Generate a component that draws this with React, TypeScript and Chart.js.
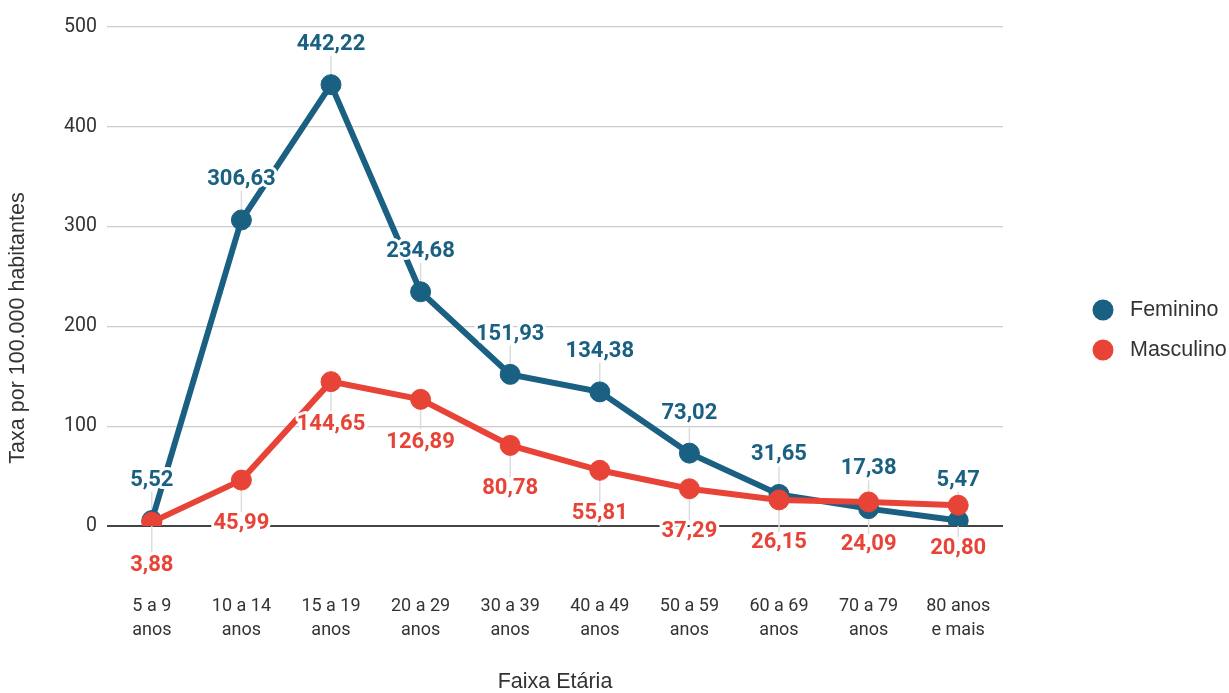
import React, { useEffect, useRef } from "react";
import { Chart, registerables } from "chart.js";

Chart.register(...registerables);

const categories: string[][] = [
  ["5 a 9", "anos"],
  ["10 a 14", "anos"],
  ["15 a 19", "anos"],
  ["20 a 29", "anos"],
  ["30 a 39", "anos"],
  ["40 a 49", "anos"],
  ["50 a 59", "anos"],
  ["60 a 69", "anos"],
  ["70 a 79", "anos"],
  ["80 anos", "e mais"],
];
const feminino: number[] = [5.52, 306.63, 442.22, 234.68, 151.93, 134.38, 73.02, 31.65, 17.38, 5.47];
const masculino: number[] = [3.88, 45.99, 144.65, 126.89, 80.78, 55.81, 37.29, 26.15, 24.09, 20.8];
const seriesNames: string[] = ["Feminino", "Masculino"];
const seriesColors: string[] = ["#1a6082", "#e84337"];
const labelOffsets: number[] = [-40, 43];
const yTicks: number[] = [0, 100, 200, 300, 400, 500];
const yTitle = "Taxa por 100.000 habitantes";
const xTitle = "Faixa Etária";

const fmt = (v: number) => v.toFixed(2).replace(".", ",");

const leaderPlugin = {
  id: "leaders",
  beforeDatasetsDraw(chart: any) {
    const ctx = chart.ctx;
    ctx.save();
    ctx.strokeStyle = "#dcdcdc";
    ctx.lineWidth = 1.5;
    chart.data.datasets.forEach((ds: any, di: number) => {
      const meta = chart.getDatasetMeta(di);
      const off = ds.labelOffset;
      meta.data.forEach((pt: any) => {
        const ly = pt.y + off;
        const end = off < 0 ? ly + 11 : ly - 11;
        ctx.beginPath();
        ctx.moveTo(pt.x, pt.y);
        ctx.lineTo(pt.x, end);
        ctx.stroke();
      });
    });
    ctx.restore();
  },
};

const labelPlugin = {
  id: "valueLabels",
  afterDatasetsDraw(chart: any) {
    const ctx = chart.ctx;
    ctx.save();
    ctx.font = "bold 22px Roboto";
    ctx.textAlign = "center";
    ctx.textBaseline = "middle";
    ctx.lineJoin = "round";
    chart.data.datasets.forEach((ds: any, di: number) => {
      const meta = chart.getDatasetMeta(di);
      meta.data.forEach((pt: any, i: number) => {
        const txt = fmt(ds.data[i]);
        const y = pt.y + ds.labelOffset;
        ctx.strokeStyle = "#ffffff";
        ctx.lineWidth = 6;
        ctx.strokeText(txt, pt.x, y);
        ctx.fillStyle = ds.borderColor;
        ctx.fillText(txt, pt.x, y);
      });
    });
    ctx.restore();
  },
};

const extrasPlugin = {
  id: "extras",
  afterDraw(chart: any) {
    const ctx = chart.ctx;
    ctx.save();
    // y axis title
    ctx.translate(18, 328);
    ctx.rotate(-Math.PI / 2);
    ctx.font = "21.5px 'Liberation Sans', Arial";
    ctx.fillStyle = "#333";
    ctx.textAlign = "center";
    ctx.textBaseline = "middle";
    ctx.fillText(yTitle, 0, 0);
    ctx.restore();
    // legend
    ctx.save();
    ctx.font = "21.5px 'Liberation Sans', Arial";
    ctx.textAlign = "left";
    ctx.textBaseline = "middle";
    seriesNames.forEach((name, i) => {
      const y = 310 + i * 40;
      ctx.beginPath();
      ctx.fillStyle = seriesColors[i];
      ctx.arc(1103, y, 10.5, 0, Math.PI * 2);
      ctx.fill();
      ctx.fillStyle = "#333";
      ctx.fillText(name, 1130, y);
    });
    ctx.restore();
  },
};

export default function App() {
  const ref = useRef<HTMLCanvasElement | null>(null);
  useEffect(() => {
    document.body.style.margin = "0";
    const canvas = ref.current!;
    const mk = (name: string, data: number[], i: number, order: number) => ({
      label: name,
      data,
      borderColor: seriesColors[i],
      backgroundColor: seriesColors[i],
      pointBackgroundColor: seriesColors[i],
      pointBorderColor: seriesColors[i],
      pointBorderWidth: 1,
      pointRadius: 10,
      pointHoverRadius: 10,
      borderWidth: 6,
      tension: 0,
      order,
      labelOffset: labelOffsets[i],
    });
    const chart = new Chart(canvas, {
      type: "line",
      data: {
        labels: categories,
        datasets: [mk(seriesNames[0], feminino, 0, 1), mk(seriesNames[1], masculino, 1, 0)],
      },
      options: {
        responsive: false,
        animation: false,
        events: [],
        layout: { padding: { left: 0, right: 226, top: 27, bottom: 0 } },
        plugins: {
          legend: { display: false },
          tooltip: { enabled: false },
        },
        scales: {
          x: {
            offset: true,
            grid: { display: false, drawTicks: false },
            border: { display: false },
            ticks: {
              font: { family: "Roboto", size: 18, lineHeight: 1.3 },
              color: "#333",
              padting: 0,
              padding: 69,
              maxRotation: 0,
              autoSkip: false,
            },
            title: {
              display: true,
              text: xTitle,
              font: { family: "'Liberation Sans', Arial", size: 21.5, lineHeight: 1 },
              color: "#333",
              padding: { top: 0, bottom: 0 },
            },
            afterFit: (s: any) => {
              s.height = 167;
            },
          },
          y: {
            min: 0,
            max: 500,
            afterBuildTicks: (s: any) => {
              s.ticks = yTicks.map((v) => ({ value: v }));
            },
            grid: {
              drawTicks: false,
              color: (c: any) => (c.tick && c.tick.value === 0 ? "#444" : "#cccccc"),
              lineWidth: (c: any) => (c.tick && c.tick.value === 0 ? 2 : 1.2),
            },
            border: { display: false },
            ticks: {
              font: { family: "Roboto", size: 19.5 },
              color: "#333",
              padding: 10,
            },
            afterFit: (s: any) => {
              s.width = 107;
            },
          },
        },
      },
      plugins: [leaderPlugin, labelPlugin, extrasPlugin],
    } as any);
    return () => chart.destroy();
  }, []);
  return (
    <div style={{ width: 1229, height: 693, background: "#fff" }}>
      <canvas ref={ref} width={1229} height={693} />
    </div>
  );
}
